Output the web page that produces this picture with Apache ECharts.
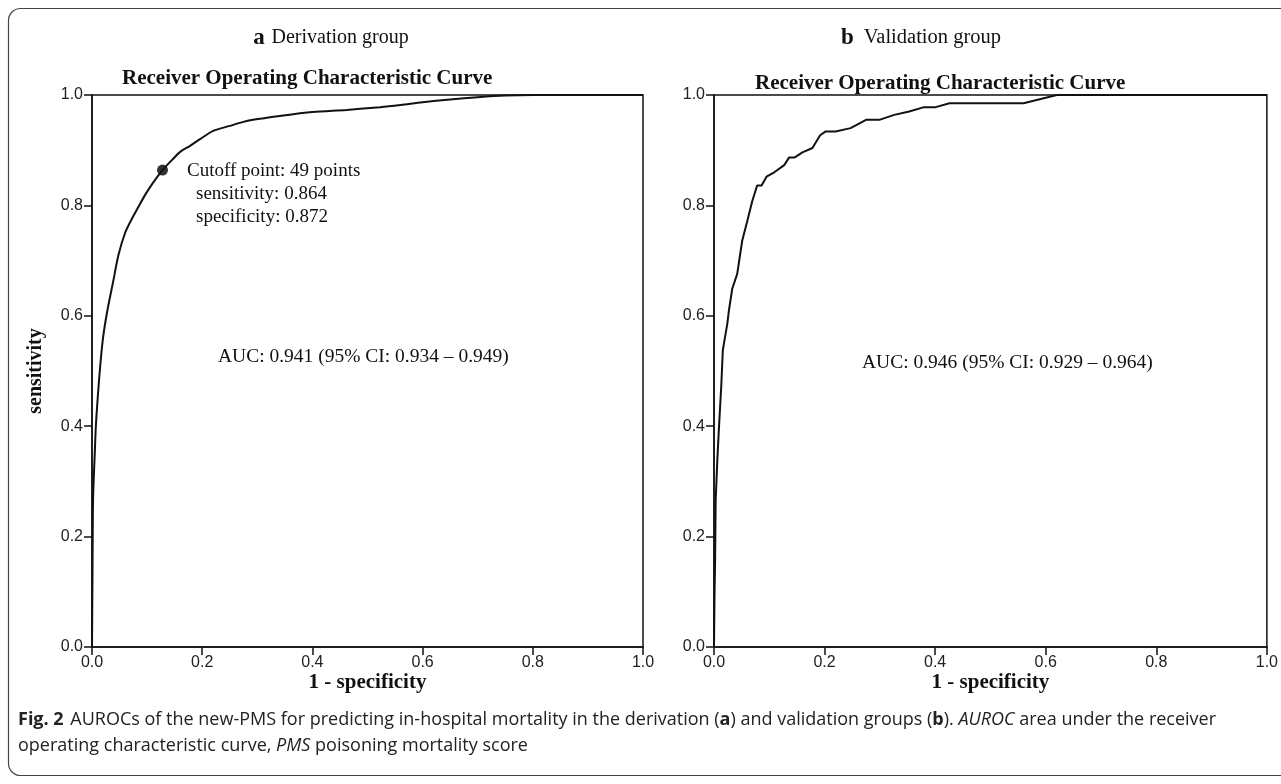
<!DOCTYPE html>
<html>
<head>
<meta charset="utf-8">
<script src="https://cdn.jsdelivr.net/npm/echarts@6/dist/echarts.min.js"></script>
<style>
html,body{margin:0;padding:0;background:#fff;}
#chart{width:1281px;height:784px;}
</style>
</head>
<body>
<div id="chart"></div>
<script>
// ---- data ----
const tickLabels = ['0.0','0.2','0.4','0.6','0.8','1.0'];
const derivationFpr = [0,0.001,0.002,0.005,0.007,0.011,0.015,0.02,0.028,0.039,0.048,0.06,0.072,0.084,0.097,0.11,0.128,0.145,0.16,0.178,0.196,0.22,0.25,0.27,0.292,0.341,0.4,0.462,0.523,0.56,0.6,0.65,0.7,0.75,0.8,1.0];
const derivationTpr = [0,0.15,0.27,0.35,0.4,0.46,0.51,0.56,0.61,0.665,0.71,0.75,0.775,0.797,0.82,0.84,0.864,0.882,0.897,0.908,0.92,0.935,0.944,0.95,0.955,0.962,0.969,0.973,0.978,0.982,0.987,0.992,0.996,0.999,1.0,1.0];
const validationFpr = [0,0.001,0.002,0.003,0.006,0.009,0.013,0.016,0.019,0.024,0.027,0.033,0.042,0.051,0.06,0.069,0.078,0.086,0.095,0.109,0.127,0.136,0.146,0.16,0.178,0.192,0.202,0.22,0.247,0.275,0.299,0.326,0.353,0.38,0.401,0.426,0.56,0.62,1.0];
const validationTpr = [0,0.1,0.155,0.265,0.338,0.398,0.47,0.538,0.556,0.585,0.61,0.649,0.676,0.736,0.771,0.807,0.836,0.836,0.852,0.86,0.873,0.887,0.887,0.896,0.904,0.927,0.934,0.934,0.94,0.955,0.955,0.964,0.97,0.978,0.978,0.985,0.985,1.0,1.0];
const cutoffPoint = [0.128, 0.864];

const zip = (a,b) => a.map((v,i)=>[v,b[i]]);
const serif = '"Liberation Serif","Times New Roman",serif';
const tickFont = '"Liberation Sans",Arial,sans-serif';
const capFont = '"Open Sans","Noto Sans",sans-serif';

function xAx(idx){
  return {
    type:'value', gridIndex:idx, min:0, max:1, interval:0.2,
    name: '1 - specificity', nameLocation:'middle', nameGap:25, nameMoveOverlap:false,
    nameTextStyle:{fontFamily:serif,fontWeight:'bold',fontSize:21,color:'#111',verticalAlign:'top'},
    axisLine:{show:true,onZero:false,lineStyle:{color:'#111',width:1.5}},
    axisTick:{show:true,length:8,lineStyle:{color:'#111',width:1.5}},
    axisLabel:{fontFamily:tickFont,fontSize:16,color:'#222',margin:8,
      formatter:v=>tickLabels[Math.round(v*5)]},
    splitLine:{show:false}
  };
}
function yAx(idx, withName){
  return {
    type:'value', gridIndex:idx, min:0, max:1, interval:0.2,
    name: withName ? 'sensitivity' : '', nameLocation:'middle', nameGap:46, nameMoveOverlap:false,
    nameTextStyle:{fontFamily:serif,fontWeight:'bold',fontSize:20,color:'#111'},
    axisLine:{show:true,onZero:false,lineStyle:{color:'#111',width:1.5}},
    axisTick:{show:true,length:8,lineStyle:{color:'#111',width:1.5}},
    axisLabel:{fontFamily:tickFont,fontSize:16,color:'#222',margin:9,
      formatter:v=>tickLabels[Math.round(v*5)]},
    splitLine:{show:false}
  };
}

const chart = echarts.init(document.getElementById('chart'), null, {renderer:'canvas'});
chart.setOption({
  backgroundColor:'#fff',
  animation:false,
  grid:[
    {left:92, top:95, width:551, height:552, show:true, borderColor:'#111', borderWidth:1.5, backgroundColor:'transparent'},
    {left:714, top:95, width:555, height:552, show:true, borderColor:'#111', borderWidth:1.5, backgroundColor:'transparent'}
  ],
  xAxis:[xAx(0), xAx(1)],
  yAxis:[yAx(0,true), yAx(1,false)],
  series:[
    {type:'line', xAxisIndex:0, yAxisIndex:0, data:zip(derivationFpr,derivationTpr), smooth:0.3,
      showSymbol:false, lineStyle:{color:'#111',width:2}},
    {type:'line', xAxisIndex:1, yAxisIndex:1, data:zip(validationFpr,validationTpr), smooth:false,
      showSymbol:false, lineStyle:{color:'#111',width:2}},
    {type:'scatter', xAxisIndex:0, yAxisIndex:0, data:[cutoffPoint], symbol:'circle', symbolSize:11,
      itemStyle:{color:'#000'}}
  ],
  graphic:[
    {type:'rect', shape:{x:8.5,y:8.5,width:1300,height:767,r:12}, style:{fill:null,stroke:'#444',lineWidth:1.2}, silent:true},
    {type:'text', x:331, y:38, style:{text:'{b|a}  {n|Derivation group}', align:'center', verticalAlign:'middle',
      rich:{b:{fontFamily:serif,fontWeight:'bold',fontSize:23,fill:'#111'}, n:{fontFamily:serif,fontSize:20,fill:'#111'}}}},
    {type:'text', x:921, y:38, style:{text:'{b|b}   {n|Validation group}', align:'center', verticalAlign:'middle',
      rich:{b:{fontFamily:serif,fontWeight:'bold',fontSize:23,fill:'#111'}, n:{fontFamily:serif,fontSize:20.5,fill:'#111'}}}},
    {type:'text', x:122, y:79, style:{text:'Receiver Operating Characteristic Curve', verticalAlign:'middle',
      fontFamily:serif,fontWeight:'bold',fontSize:21,fill:'#111'}},
    {type:'text', x:755, y:84, style:{text:'Receiver Operating Characteristic Curve', verticalAlign:'middle',
      fontFamily:serif,fontWeight:'bold',fontSize:21,fill:'#111'}},
    {type:'text', x:187, y:171, style:{text:'Cutoff point: 49 points', verticalAlign:'middle', fontFamily:serif,fontSize:19,fill:'#111'}},
    {type:'text', x:196, y:194, style:{text:'sensitivity: 0.864', verticalAlign:'middle', fontFamily:serif,fontSize:19,fill:'#111'}},
    {type:'text', x:196, y:217, style:{text:'specificity: 0.872', verticalAlign:'middle', fontFamily:serif,fontSize:19,fill:'#111'}},
    {type:'text', x:218, y:357, style:{text:'AUC: 0.941 (95% CI: 0.934 – 0.949)', verticalAlign:'middle', fontFamily:serif,fontSize:19.5,fill:'#111'}},
    {type:'text', x:862, y:363, style:{text:'AUC: 0.946 (95% CI: 0.929 – 0.964)', verticalAlign:'middle', fontFamily:serif,fontSize:19.5,fill:'#111'}},
    {type:'text', x:18, y:720, style:{text:'{b|Fig. 2}  {n|AUROCs of the new-PMS for predicting in-hospital mortality in the derivation (}{b|a}{n|) and validation groups (}{b|b}{n|). }{i|AUROC}{n| area under the receiver}',
      verticalAlign:'middle',
      rich:{b:{fontFamily:capFont,fontWeight:'bold',fontSize:18,fill:'#222'},
            n:{fontFamily:capFont,fontSize:18,fill:'#222'},
            i:{fontFamily:capFont,fontStyle:'italic',fontSize:18,fill:'#222'}}}},
    {type:'text', x:18, y:746, style:{text:'{n|operating characteristic curve, }{i|PMS}{n| poisoning mortality score}',
      verticalAlign:'middle',
      rich:{n:{fontFamily:capFont,fontSize:18,fill:'#222'},
            i:{fontFamily:capFont,fontStyle:'italic',fontSize:18,fill:'#222'}}}}
  ]
});
</script>
</body>
</html>
